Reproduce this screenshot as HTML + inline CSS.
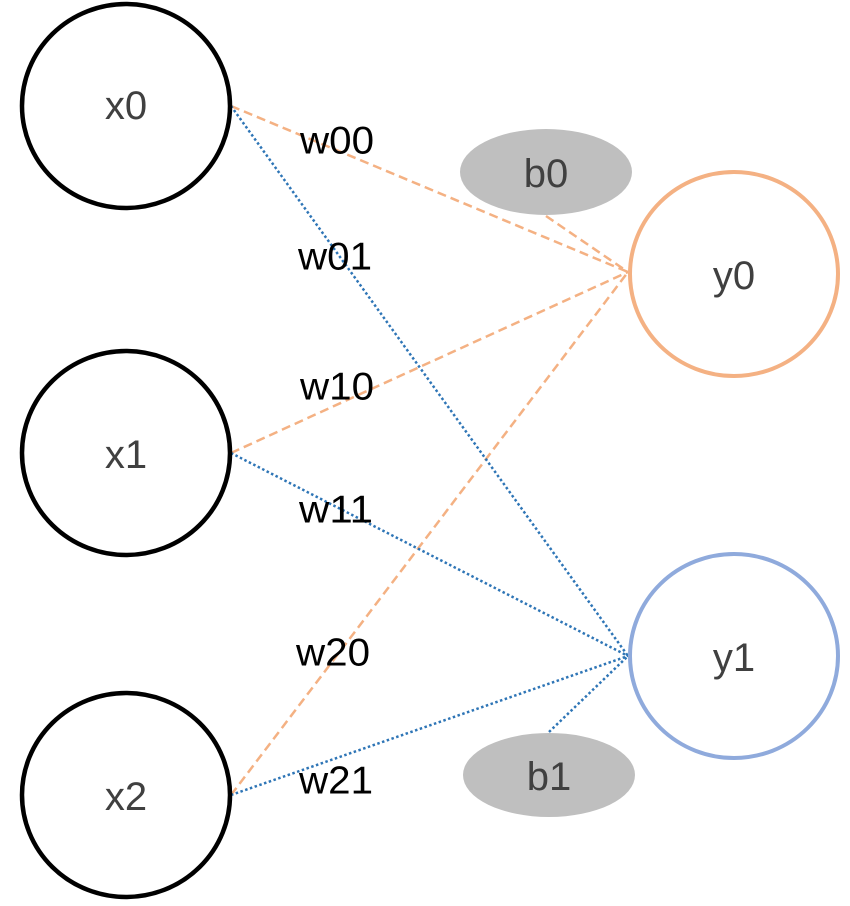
<!DOCTYPE html>
<html><head><meta charset="utf-8"><style>html,body{margin:0;padding:0;background:#fff}svg{display:block}</style></head>
<body>
<svg width="850" height="906" viewBox="0 0 850 906" xmlns="http://www.w3.org/2000/svg" font-family="Liberation Sans, sans-serif">
<g stroke="#F4B183" stroke-width="2.5" stroke-dasharray="9,5" fill="none">
<line x1="231" y1="106" x2="628" y2="272"/>
<line x1="546" y1="216" x2="628" y2="272"/>
<line x1="231" y1="453" x2="628" y2="272"/>
<line x1="231" y1="795" x2="628" y2="272"/>
</g>
<g stroke="#2E75B6" stroke-width="2.5" stroke-dasharray="2.5,2.5" fill="none">
<line x1="231" y1="106" x2="628" y2="656"/>
<line x1="231" y1="453" x2="628" y2="656"/>
<line x1="231" y1="795" x2="628" y2="656"/>
<line x1="549" y1="732" x2="628" y2="656"/>
</g>
<g fill="#fff" stroke="#000" stroke-width="4.5">
<ellipse cx="126" cy="106" rx="104" ry="102"/>
<ellipse cx="126" cy="453" rx="104" ry="102"/>
<ellipse cx="126" cy="795" rx="104" ry="102"/>
</g>
<ellipse cx="734" cy="274" rx="104" ry="102" fill="#fff" stroke="#F4B183" stroke-width="4"/>
<ellipse cx="734" cy="656" rx="104" ry="102" fill="#fff" stroke="#8FAADC" stroke-width="4"/>
<ellipse cx="546" cy="172" rx="86" ry="43" fill="#BFBFBF"/>
<ellipse cx="549" cy="775" rx="86" ry="42" fill="#BFBFBF"/>
<g font-size="40" fill="#404040" text-anchor="middle" dominant-baseline="central">
<text x="126" y="106">x0</text>
<text x="126" y="455">x1</text>
<text x="126" y="797">x2</text>
<text x="734" y="276">y0</text>
<text x="734" y="658">y1</text>
<text x="546" y="174">b0</text>
<text x="549" y="777">b1</text>
</g>
<g font-size="39" fill="#000" text-anchor="middle" dominant-baseline="central">
<text x="337" y="141" textLength="74" lengthAdjust="spacingAndGlyphs">w00</text>
<text x="335" y="257" textLength="74" lengthAdjust="spacingAndGlyphs">w01</text>
<text x="337" y="387" textLength="74" lengthAdjust="spacingAndGlyphs">w10</text>
<text x="336" y="510" textLength="74" lengthAdjust="spacingAndGlyphs">w11</text>
<text x="333" y="653" textLength="74" lengthAdjust="spacingAndGlyphs">w20</text>
<text x="336" y="781" textLength="74" lengthAdjust="spacingAndGlyphs">w21</text>
</g>
</svg>
</body></html>
